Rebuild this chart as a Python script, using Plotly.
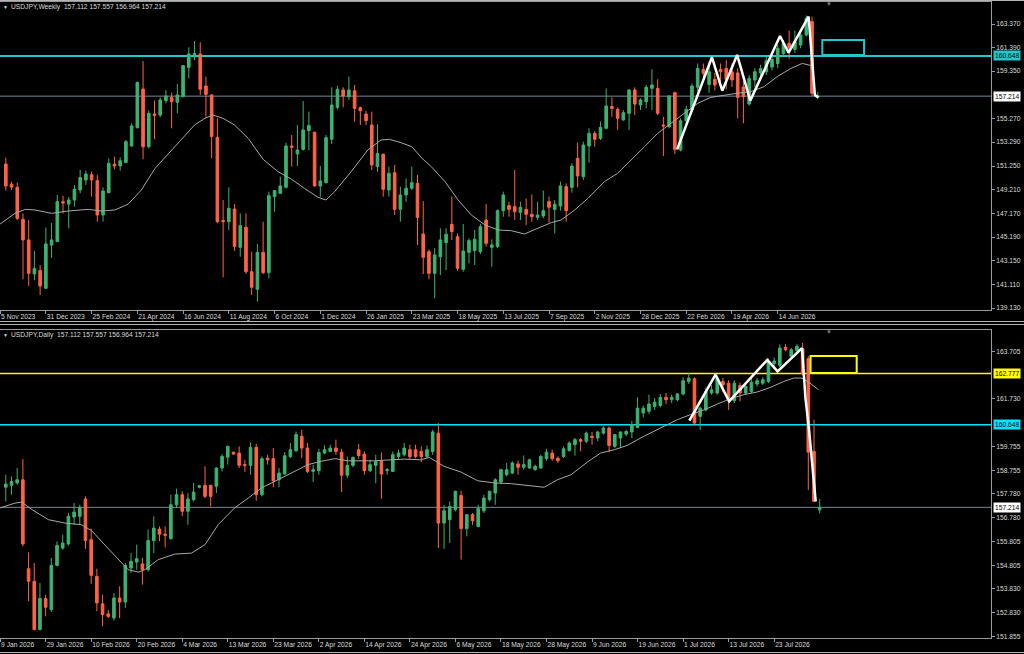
import plotly.graph_objects as go

# ---------------- weekly panel data ----------------
w_open = [151.42, 149.70, 149.43, 146.70, 144.94, 142.04, 142.32, 140.81, 144.50, 144.80,
          148.20, 148.00, 148.35, 149.20, 150.06, 150.51, 150.00, 147.07, 148.97, 151.40,
          151.26, 151.54, 152.96, 154.52, 157.82, 152.90, 155.69, 155.60, 156.83, 157.11,
          156.69, 157.17, 159.67, 160.75, 160.81, 158.08, 157.31, 153.70, 146.60, 146.50,
          147.58, 144.31, 146.02, 142.23, 140.73, 143.88, 142.15, 148.63, 148.92, 149.43,
          152.96, 152.28, 152.67, 154.27, 154.13, 149.55, 149.83, 153.53, 156.26, 157.74,
          157.17, 157.68, 156.23, 155.69, 154.75, 151.20, 152.25, 149.20, 150.68, 147.55,
          148.78, 149.35, 149.77, 145.45, 143.94, 142.09, 143.51, 144.71, 146.27, 145.22,
          142.43, 143.88, 144.03, 143.94, 146.64, 144.31, 144.37, 147.44, 147.87, 147.78,
          147.30, 147.55, 147.13, 146.87, 146.99, 148.21, 147.55, 147.84, 149.49, 149.43,
          151.91, 150.34, 152.96, 154.04, 153.61, 154.47, 156.32, 156.09, 155.18, 155.75,
          157.74, 156.46, 156.74, 157.88, 157.88, 154.75, 154.61, 157.51, 152.62, 155.12,
          156.03, 157.97, 159.50, 158.20, 158.65, 159.50, 159.58, 159.30, 159.20, 158.00,
          156.54, 158.59, 159.20, 159.30, 159.70, 160.00, 160.84, 161.72, 161.21, 161.58,
          162.43, 163.57, 157.112]
w_high = [151.96, 149.90, 149.83, 147.20, 146.64, 144.00, 142.80, 146.00, 146.40, 148.78,
          148.70, 148.60, 149.63, 150.91, 150.85, 150.77, 150.48, 149.43, 151.90, 152.05,
          151.99, 153.47, 154.89, 158.45, 160.21, 155.97, 156.83, 157.11, 157.74, 157.51,
          158.25, 159.87, 161.38, 161.92, 161.81, 158.88, 157.40, 155.32, 148.35, 149.43,
          148.00, 147.20, 147.20, 143.94, 144.60, 146.50, 149.06, 149.20, 150.34, 153.24,
          153.90, 154.75, 156.80, 155.90, 154.18, 151.25, 153.90, 157.97, 158.08, 157.97,
          158.88, 158.17, 156.32, 155.97, 155.89, 154.81, 152.33, 151.20, 151.34, 149.49,
          150.20, 151.20, 150.48, 148.26, 144.14, 144.23, 145.93, 145.93, 148.64, 145.50,
          146.30, 145.08, 145.79, 146.30, 148.00, 144.99, 147.55, 149.06, 148.20, 150.91,
          148.20, 148.49, 148.83, 148.20, 149.15, 148.63, 148.35, 149.92, 149.77, 151.48,
          153.24, 153.33, 154.47, 154.24, 155.04, 157.88, 157.11, 156.26, 156.03, 157.80,
          157.97, 157.03, 158.17, 159.50, 158.65, 155.46, 157.31, 157.60, 155.32, 156.40,
          158.30, 160.00, 160.00, 160.20, 159.20, 160.00, 160.30, 160.00, 159.60, 158.50,
          159.00, 159.60, 159.90, 160.60, 160.70, 161.60, 162.00, 162.80, 162.80, 162.90,
          164.10, 164.00, 157.557]
w_low = [149.15, 149.20, 146.64, 141.58, 141.01, 141.52, 140.24, 140.80, 143.40, 144.80,
         147.20, 145.93, 147.78, 148.92, 149.63, 148.64, 146.50, 146.50, 148.92, 150.97,
         150.85, 151.48, 152.90, 154.47, 151.82, 152.76, 153.53, 155.41, 156.60, 154.47,
         155.75, 157.11, 158.73, 160.30, 157.31, 155.46, 151.90, 146.36, 141.75, 145.79,
         144.00, 143.51, 142.03, 140.24, 139.67, 142.03, 141.66, 147.35, 148.86, 149.34,
         151.20, 151.25, 152.56, 152.60, 149.49, 148.64, 149.77, 153.13, 156.09, 156.26,
         156.89, 155.04, 154.75, 154.75, 150.91, 150.77, 148.64, 148.64, 147.07, 146.50,
         148.20, 149.20, 144.51, 142.03, 141.58, 139.96, 141.95, 142.37, 144.94, 142.32,
         142.23, 142.94, 142.80, 143.74, 144.37, 142.66, 144.23, 146.92, 146.92, 146.64,
         146.64, 146.22, 146.50, 146.64, 146.78, 146.42, 145.50, 147.44, 146.50, 148.97,
         149.43, 150.06, 151.54, 152.90, 153.47, 154.38, 155.46, 154.33, 155.12, 154.33,
         155.60, 156.03, 156.17, 156.03, 155.60, 152.10, 154.47, 152.27, 152.50, 154.60,
         155.90, 157.60, 158.70, 157.50, 157.70, 158.40, 157.80, 158.00, 155.32, 154.90,
         156.40, 158.00, 158.90, 159.00, 159.40, 159.60, 160.60, 160.40, 160.90, 161.30,
         162.30, 157.20, 156.964]
w_close = [149.55, 149.45, 146.78, 144.94, 142.09, 142.49, 141.01, 144.60, 144.94, 148.21,
           148.10, 148.35, 149.26, 150.26, 150.57, 150.06, 147.07, 149.12, 151.48, 151.26,
           151.70, 153.33, 154.67, 158.39, 152.90, 155.75, 155.58, 156.89, 157.23, 156.74,
           157.31, 159.82, 160.81, 160.84, 157.80, 157.37, 153.76, 146.50, 146.50, 147.64,
           144.37, 146.16, 142.23, 140.90, 143.88, 142.15, 148.72, 149.15, 149.55, 152.96,
           152.85, 152.62, 154.33, 154.70, 149.55, 149.97, 153.67, 156.46, 157.80, 157.23,
           157.74, 156.17, 155.97, 155.12, 151.34, 152.33, 149.26, 150.63, 147.55, 148.78,
           149.35, 149.83, 146.87, 143.46, 142.09, 143.66, 144.94, 145.42, 145.65, 142.52,
           143.99, 144.88, 145.00, 146.07, 144.65, 144.51, 147.44, 148.78, 147.55, 147.35,
           147.73, 147.13, 146.93, 147.07, 147.44, 147.73, 147.98, 149.55, 147.44, 151.25,
           150.40, 153.04, 154.04, 153.53, 154.55, 156.37, 156.17, 155.32, 155.80, 157.74,
           156.54, 156.89, 157.97, 158.17, 155.75, 154.67, 157.23, 152.67, 155.12, 156.09,
           158.08, 159.58, 159.16, 159.30, 158.17, 159.30, 158.65, 158.60, 157.11, 157.17,
           158.73, 159.30, 159.58, 160.24, 160.35, 161.30, 161.72, 161.30, 161.86, 162.43,
           163.86, 157.46, 157.214]

w_ma_x = [-1, 1.6, 3.4, 5.1, 8.0, 10.9, 14.4, 16.8, 19.1, 21.4, 23.7, 26.1, 28.4, 30.7, 33.0,
          34.8, 36.2, 38.0, 40.0, 42.4, 45.0, 47.6, 50.0, 52.2, 54.6, 56.0, 57.5, 60.4, 63.3,
          65.6, 67.1, 69.1, 71.0, 72.8, 74.4, 76.8, 79.1, 81.4, 83.8, 86.1, 88.4, 90.7, 93.1,
          95.4, 97.1, 99.5, 101.8, 104.7, 107.0, 109.4, 111.7, 114.0, 116.3, 118.6, 121.0,
          123.3, 125.6, 127.9, 130.3, 132.6, 134.9, 137.3, 139.3, 141.1]
w_ma_y = [146.30, 147.21, 147.55, 147.50, 147.21, 147.41, 147.55, 147.41, 147.50, 148.00,
          149.20, 151.05, 152.28, 153.47, 154.75, 155.32, 155.60, 155.32, 154.75, 153.61,
          151.82, 150.77, 150.11, 149.35, 148.58, 148.35, 149.06, 150.77, 152.62, 153.47,
          153.53, 153.24, 152.90, 151.90, 151.20, 149.92, 148.35, 147.07, 146.22, 145.79,
          145.73, 145.45, 145.93, 146.42, 146.64, 147.50, 148.49, 149.92, 150.63, 151.76,
          152.90, 154.04, 154.89, 155.75, 156.60, 157.11, 157.31, 157.46, 157.60, 158.02,
          158.88, 159.58, 160.01, 159.79]

w_zig_x = [117.4, 123.5, 125.3, 127.9, 130.2, 135.4, 136.9, 140.4, 141.5, 142.1]
w_zig_y = [152.67, 160.53, 157.68, 160.73, 156.83, 162.35, 160.92, 164.00, 157.31, 157.11]

w_ticks = [163.370, 161.390, 159.350, 155.270, 153.290, 151.250, 149.210,
           147.170, 145.190, 143.150, 141.110, 139.130]
w_dates = ["5 Nov 2023", "31 Dec 2023", "25 Feb 2024", "21 Apr 2024", "16 Jun 2024",
           "11 Aug 2024", "6 Oct 2024", "1 Dec 2024", "26 Jan 2025", "23 Mar 2025",
           "18 May 2025", "13 Jul 2025", "7 Sep 2025", "2 Nov 2025", "28 Dec 2025",
           "22 Feb 2026", "19 Apr 2026", "14 Jun 2026"]

# ---------------- daily panel data ----------------
d_open = [158.05, 158.13, 158.23, 158.36, 154.66, 154.14, 152.13, 153.42, 152.96, 154.80,
          155.52, 155.69, 156.81, 156.84, 157.56, 155.87, 154.34, 153.20, 152.78, 152.61,
          153.44, 153.28, 154.69, 154.94, 154.86, 154.62, 155.83, 156.31, 156.10, 155.91,
          157.32, 157.74, 157.05, 157.53, 158.05, 158.13, 158.13, 158.09, 158.85, 159.30,
          159.50, 159.47, 158.99, 158.96, 159.71, 157.74, 159.26, 159.24, 158.36, 158.60,
          159.33, 159.57, 160.17, 159.68, 158.71, 158.74, 159.47, 159.54, 159.68, 159.51,
          158.55, 158.96, 159.61, 159.43, 158.74, 158.96, 159.13, 158.74, 158.71, 159.33,
          159.40, 159.61, 159.61, 159.54, 159.33, 159.54, 160.30, 156.56, 156.70, 157.12,
          157.71, 156.33, 156.91, 156.42, 157.07, 157.53, 157.81, 158.27, 158.57, 158.64,
          159.02, 158.88, 158.85, 158.78, 158.85, 159.24, 159.47, 159.26, 159.33, 159.57,
          159.82, 160.03, 159.96, 160.17, 160.10, 160.30, 160.51, 159.75, 160.10, 160.26,
          160.35, 160.54, 161.14, 161.21, 161.41, 161.45, 161.79, 161.69, 161.69, 161.93,
          162.45, 162.56, 161.00, 161.27, 161.97, 161.97, 162.45, 162.38, 161.65, 162.28,
          161.97, 162.03, 162.34, 162.38, 162.45, 163.20, 163.12, 163.87, 163.49, 163.73,
          163.81, 163.40, 159.54, 157.112]
d_high = [158.57, 158.50, 158.85, 159.22, 155.34, 154.90, 154.07, 153.58, 155.11, 155.80,
          156.08, 156.98, 157.39, 157.32, 157.67, 156.33, 154.66, 153.58, 152.96, 153.65,
          153.93, 154.90, 155.31, 155.66, 155.11, 156.29, 156.84, 156.42, 156.42, 157.74,
          157.99, 157.88, 157.81, 158.23, 158.15, 158.92, 158.15, 158.88, 159.43, 159.78,
          159.54, 159.75, 159.19, 159.92, 159.85, 159.33, 159.40, 159.68, 158.85, 159.51,
          159.89, 160.37, 160.44, 159.89, 158.99, 159.65, 159.79, 159.82, 160.03, 159.65,
          159.33, 159.33, 159.85, 159.54, 159.19, 159.40, 159.50, 158.85, 159.54, 159.61,
          159.89, 159.82, 159.82, 159.75, 159.79, 160.44, 160.72, 157.32, 157.46, 157.91,
          157.91, 156.94, 156.98, 157.32, 157.74, 157.91, 158.43, 158.82, 159.06, 159.13,
          159.15, 159.37, 159.24, 158.99, 159.40, 159.65, 159.61, 159.33, 159.75, 159.96,
          160.10, 160.10, 160.37, 160.35, 160.40, 160.58, 160.58, 160.26, 160.37, 160.44,
          160.81, 161.79, 161.45, 161.90, 161.76, 161.93, 161.97, 161.90, 161.97, 162.62,
          162.80, 162.62, 161.41, 162.20, 162.30, 162.70, 162.60, 162.50, 162.50, 162.40,
          162.38, 162.55, 162.60, 162.62, 163.40, 163.45, 164.00, 164.00, 163.84, 164.00,
          164.05, 163.50, 160.86, 157.557]
d_low = [157.46, 157.74, 158.15, 155.59, 153.31, 152.10, 152.09, 152.68, 152.86, 154.76,
         155.45, 155.63, 156.49, 156.49, 155.49, 154.03, 152.89, 152.27, 152.61, 152.50,
         152.61, 153.03, 154.48, 154.62, 154.00, 154.55, 155.31, 155.80, 155.55, 155.87,
         157.19, 156.84, 156.49, 157.46, 158.00, 157.60, 157.25, 157.81, 158.71, 158.99,
         159.40, 158.85, 158.68, 158.57, 157.49, 157.67, 158.99, 158.05, 158.05, 158.57,
         159.26, 159.51, 159.26, 158.64, 158.27, 158.57, 159.43, 159.51, 159.40, 157.85,
         158.43, 158.88, 159.24, 158.57, 158.68, 158.22, 157.57, 158.57, 158.68, 159.24,
         159.33, 159.19, 159.26, 159.10, 159.26, 159.40, 155.52, 155.49, 155.73, 157.05,
         155.04, 156.01, 156.49, 156.38, 156.98, 157.46, 157.32, 158.18, 158.50, 158.60,
         158.57, 158.78, 158.82, 158.74, 158.82, 159.15, 159.15, 159.06, 159.26, 159.54,
         159.37, 159.54, 159.89, 159.82, 159.96, 160.24, 159.51, 159.68, 159.68, 160.17,
         160.10, 160.51, 160.96, 161.10, 161.27, 161.37, 161.51, 161.55, 161.62, 161.87,
         162.34, 160.60, 160.44, 161.20, 161.90, 161.90, 162.00, 161.27, 161.55, 161.62,
         161.90, 161.97, 162.24, 162.30, 162.38, 163.00, 163.05, 163.70, 163.40, 163.60,
         162.70, 157.94, 157.43, 156.964]
d_close = [158.18, 158.29, 158.36, 155.69, 154.14, 152.13, 153.42, 153.06, 154.80, 155.63,
           155.73, 156.84, 157.02, 157.21, 155.83, 154.39, 153.24, 152.75, 152.68, 153.44,
           153.28, 154.80, 154.97, 155.08, 154.62, 155.83, 156.35, 156.10, 156.05, 157.32,
           157.74, 157.05, 157.56, 157.85, 158.11, 157.67, 157.67, 158.85, 159.33, 159.75,
           159.43, 158.96, 158.96, 159.71, 157.74, 159.24, 159.19, 158.32, 158.64, 159.36,
           159.61, 160.24, 159.68, 158.71, 158.78, 159.50, 159.61, 159.68, 159.54, 158.55,
           158.96, 159.29, 159.37, 158.74, 158.99, 159.13, 158.60, 158.78, 159.40, 159.47,
           159.68, 159.33, 159.33, 159.33, 159.61, 160.35, 156.56, 157.07, 157.25, 157.88,
           156.33, 156.91, 156.66, 157.16, 157.60, 157.88, 158.36, 158.78, 158.78, 159.06,
           158.88, 158.99, 159.19, 158.92, 159.33, 159.51, 159.24, 159.15, 159.65, 159.89,
           160.03, 159.96, 160.30, 160.12, 160.35, 160.51, 159.79, 160.24, 160.35, 160.37,
           160.65, 161.34, 161.34, 161.51, 161.59, 161.79, 161.69, 161.79, 161.93, 162.48,
           162.59, 160.72, 161.34, 162.03, 162.10, 162.59, 162.31, 161.69, 162.38, 161.97,
           162.24, 162.42, 162.48, 162.52, 163.28, 163.30, 163.84, 163.77, 163.77, 163.91,
           162.76, 159.51, 157.46, 157.214]

d_ma_x = [-1, 1.6, 2.8, 4.6, 7.5, 10.4, 13.3, 15.1, 16.8, 19.2, 21.5, 23.3, 24.4, 26.8, 29.7,
          32.6, 35.0, 37.3, 40.2, 42.6, 44.9, 47.8, 50.8, 53.1, 55.4, 57.8, 60.1, 62.5, 64.8,
          67.7, 70.1, 72.9, 74.4, 77.0, 80.0, 82.9, 85.8, 88.7, 91.7, 94.6, 96.9, 99.3, 102.2,
          104.5, 106.9, 109.2, 112.1, 115.1, 118.0, 120.3, 122.7, 125.0, 127.3, 129.7, 132.0,
          134.3, 136.7, 138.4, 139.9, 141.3, 142.8]
d_ma_y = [157.19, 157.39, 157.43, 157.12, 156.70, 156.56, 156.49, 156.24, 155.80, 155.18,
          154.62, 154.52, 154.62, 155.04, 155.27, 155.31, 155.66, 156.49, 157.19, 157.60,
          158.02, 158.36, 158.71, 158.99, 159.13, 159.24, 159.15, 159.15, 159.15, 159.19,
          159.22, 159.19, 159.29, 158.92, 158.68, 158.32, 158.23, 158.20, 158.13, 158.05,
          158.36, 158.57, 159.10, 159.47, 159.61, 159.79, 160.17, 160.51, 160.86, 161.07,
          161.27, 161.51, 161.73, 161.90, 162.01, 162.20, 162.45, 162.59, 162.59, 162.38,
          162.10]

d_zig_x = [120.1, 124.7, 127.1, 133.8, 135.6, 139.9, 140.5, 141.1, 142.3]
d_zig_y = [160.82, 162.73, 161.62, 163.35, 162.87, 163.84, 161.76, 160.51, 157.46]

d_ticks = [163.705, 161.730, 159.755, 158.755, 157.780, 156.780, 155.805,
           154.805, 153.830, 152.830, 151.855]
d_dates = ["9 Jan 2026", "29 Jan 2026", "10 Feb 2026", "20 Feb 2026", "4 Mar 2026",
           "13 Mar 2026", "23 Mar 2026", "2 Apr 2026", "14 Apr 2026", "24 Apr 2026",
           "6 May 2026", "18 May 2026", "28 May 2026", "9 Jun 2026", "19 Jun 2026",
           "1 Jul 2026", "13 Jul 2026", "23 Jul 2026"]

bid = 157.214
support = 160.648
resist = 162.777
ohlc_text = "157.112 157.557 156.964 157.214"

# ---------------- styling ----------------
BULL = "#3cb371"
BEAR = "#ff6347"
AXIS = "#9a9a9a"
TXT = "#dcdcdc"
FONT = "Liberation Sans"
FS = 6.7
W, H = 1024, 654


def py(pix):
    # pixel row -> paper y
    return (H - pix) / H


fig = go.Figure()

for o, h, l, c, xa, ya in [(w_open, w_high, w_low, w_close, "x", "y"),
                           (d_open, d_high, d_low, d_close, "x2", "y2")]:
    fig.add_trace(go.Candlestick(
        x=list(range(len(c))), open=o, high=h, low=l, close=c,
        xaxis=xa, yaxis=ya, whiskerwidth=0,
        increasing=dict(line=dict(color=BULL, width=1), fillcolor=BULL),
        decreasing=dict(line=dict(color=BEAR, width=1), fillcolor=BEAR),
        hoverinfo="skip", showlegend=False))

for mx, my, xa, ya in [(w_ma_x, w_ma_y, "x", "y"), (d_ma_x, d_ma_y, "x2", "y2")]:
    fig.add_trace(go.Scatter(x=mx, y=my, mode="lines", xaxis=xa, yaxis=ya,
                             line=dict(color="#a8a8a8", width=1), hoverinfo="skip",
                             showlegend=False))
for zx, zy, xa, ya in [(w_zig_x, w_zig_y, "x", "y"), (d_zig_x, d_zig_y, "x2", "y2")]:
    fig.add_trace(go.Scatter(x=zx, y=zy, mode="lines", xaxis=xa, yaxis=ya,
                             line=dict(color="white", width=2.5), hoverinfo="skip",
                             showlegend=False))

xdom = [0, 991 / W]


def xaxis(anchor, labels, right):
    return dict(
        domain=xdom, anchor=anchor, range=[-1.02, right], automargin=False,
        tickvals=list(range(-1, -1 + 8 * len(labels), 8)), ticktext=labels,
        ticks="outside", ticklen=3, tickcolor=AXIS, tickangle=0,
        ticklabelposition="outside right",
        tickfont=dict(family=FONT, size=FS, color=TXT),
        showline=True, linecolor=AXIS, linewidth=1, mirror=True,
        showgrid=False, zeroline=False, rangeslider=dict(visible=False),
        fixedrange=True)


def yaxis(dom, anchor, ticks, rng):
    return dict(
        domain=dom, anchor=anchor, side="right", range=rng, automargin=False,
        tickvals=ticks, ticktext=["%.3f" % t for t in ticks],
        ticks="outside", ticklen=3, tickcolor=AXIS,
        tickfont=dict(family=FONT, size=FS, color=TXT),
        showline=True, linecolor=AXIS, linewidth=1, mirror=True,
        showgrid=False, zeroline=False, fixedrange=True)


fig.update_layout(
    width=W, height=H, margin=dict(l=0, r=0, t=0, b=0, autoexpand=False),
    paper_bgcolor="black", plot_bgcolor="black",
    boxgap=0.35,
    xaxis=xaxis("y", w_dates, 172.3),
    yaxis=yaxis([py(310), py(2)], "x", w_ticks, [138.96, 165.25]),
    xaxis2=xaxis("y2", d_dates, 173.1),
    yaxis2=yaxis([py(638), py(330)], "x2", d_ticks, [151.78, 164.59]),
)

shapes = []
# horizontal levels
for yref, level, col, wd in [("y", support, "#1fc8cc", 2), ("y", bid, "#778899", 1),
                             ("y2", resist, "#ffff00", 1.5), ("y2", support, "#00e5ff", 1.5),
                             ("y2", bid, "#778899", 1)]:
    xr = "x domain" if yref == "y" else "x2 domain"
    shapes.append(dict(type="line", xref=xr, yref=yref, x0=0, x1=1, y0=level, y1=level,
                       line=dict(color=col, width=wd), layer="below"))
# target boxes
shapes.append(dict(type="rect", xref="x", yref="y", x0=142.8, x1=150.1, y0=160.73, y1=162.0,
                   line=dict(color="#1fc8cc", width=2)))
shapes.append(dict(type="rect", xref="x2", yref="y2", x0=141.4, x1=149.5, y0=162.80, y1=163.51,
                   line=dict(color="#ffff00", width=2)))
# window separators
for pix in [0.5, 321.5, 324.5, 652.5]:
    shapes.append(dict(type="line", xref="paper", yref="paper", x0=0, x1=1,
                       y0=py(pix), y1=py(pix), line=dict(color="#b4b4b4", width=1)))
fig.update_layout(shapes=shapes)

ann = []
# price tags on the right scale
for yref, level, bg in [("y", support, "#1fc8cc"), ("y", bid, "white"),
                        ("y2", resist, "#ffff00"), ("y2", support, "#00e5ff"),
                        ("y2", bid, "white")]:
    ann.append(dict(x=993 / W, xref="paper", y=level, yref=yref, xanchor="left",
                    yanchor="middle", text="%.3f" % level, showarrow=False,
                    bgcolor=bg, borderpad=1,
                    font=dict(family=FONT, size=FS, color="black")))
# panel headers
for pix, name in [(7, "USDJPY,Weekly"), (335, "USDJPY,Daily")]:
    ann.append(dict(x=1 / W, xref="paper", y=py(pix), yref="paper", xanchor="left",
                    yanchor="middle", text="▼", showarrow=False,
                    font=dict(family=FONT, size=5, color=TXT)))
    ann.append(dict(x=9 / W, xref="paper", y=py(pix), yref="paper", xanchor="left",
                    yanchor="middle", text=name + "  " + ohlc_text, showarrow=False,
                    font=dict(family=FONT, size=FS, color=TXT)))
# chart shift markers
for pix in [4, 332]:
    ann.append(dict(x=829 / W, xref="paper", y=py(pix), yref="paper", xanchor="center",
                    yanchor="middle", text="▼", showarrow=False,
                    font=dict(family=FONT, size=6, color="#808080")))
fig.update_layout(annotations=ann)

# the page body has a default 8px margin; drop it so the figure fills the window
fig.write_html("out.html", config={"displayModeBar": False},
               post_script="document.body.style.margin='0';")
